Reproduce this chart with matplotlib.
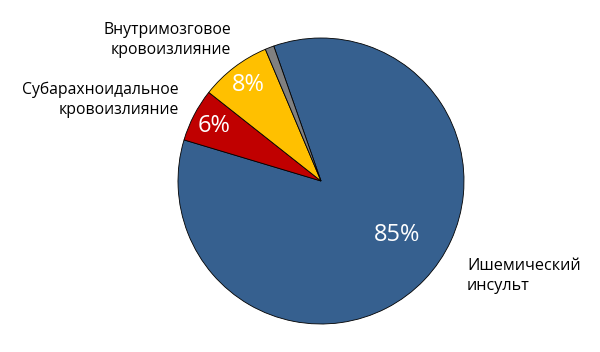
import matplotlib
matplotlib.use("Agg")
import matplotlib.pyplot as plt
import numpy as np

names = ["Ишемический\nинсульт", "Субарахноидальное\nкровоизлияние",
         "Внутримозговое\nкровоизлияние", ""]
values = [85, 6, 8, 1]
pct_labels = ["85%", "6%", "8%", ""]
colors = ["#36608F", "#C00000", "#FFC000", "#808080"]

plt.rcParams['font.family'] = ['Open Sans', 'DejaVu Sans']

fig = plt.figure(figsize=(6, 3.52), dpi=100)
ax = fig.add_axes([0, 0, 1, 1])

cx, cy, r = 321, 352 - 181, 143
wedges, _ = ax.pie(values, colors=colors, startangle=109.3, counterclock=False,
                   center=(cx, cy), radius=r,
                   wedgeprops=dict(edgecolor='black', linewidth=0.6))
ax.set_xlim(0, 600)
ax.set_ylim(0, 352)
ax.set_aspect('equal')
ax.axis('off')

# percent labels inside slices
for w, lab in zip(wedges, pct_labels):
    if not lab:
        continue
    ang = np.deg2rad((w.theta1 + w.theta2) / 2)
    d = 0.84 * r
    if lab == "85%":
        ang = np.deg2rad(-35.5)
        d = 0.655 * r
    ax.text(cx + d * np.cos(ang), cy + d * np.sin(ang), lab, color='white',
            fontsize=17, ha='center', va='center')

# outside category labels
ax.text(467, 352 - 276, names[0], ha='left', va='center', fontsize=11.6,
        linespacing=1.3)
ax.text(179, 352 - 100, names[1], ha='right', va='center', fontsize=11.3,
        linespacing=1.3)
ax.text(231, 352 - 40, names[2], ha='right', va='center', fontsize=11.3,
        linespacing=1.3)

fig.savefig("out.png", dpi=100)
